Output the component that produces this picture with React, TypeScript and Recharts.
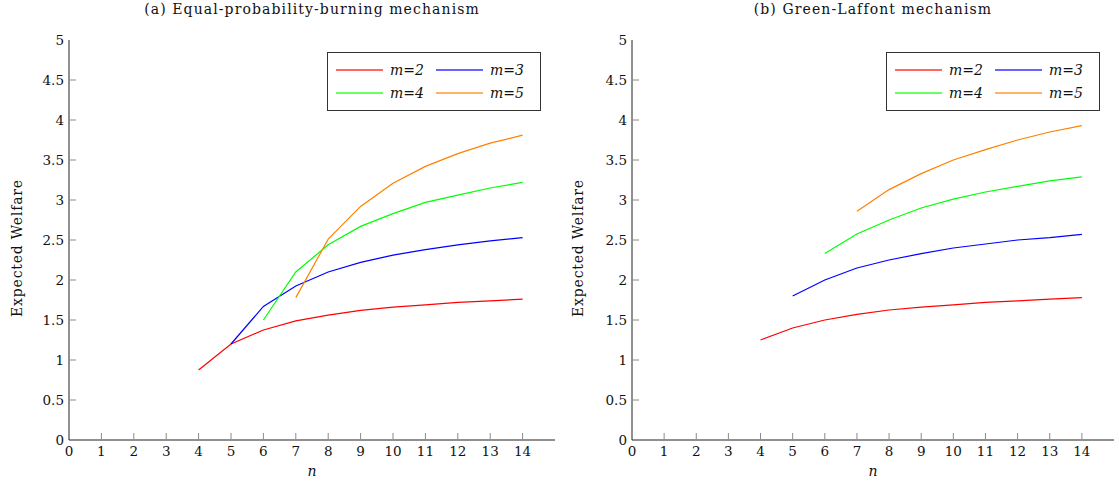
import React from "react"
import { LineChart, Line, XAxis, YAxis, Legend } from "recharts"

// n = 4 .. 14
const nValues = [4, 5, 6, 7, 8, 9, 10, 11, 12, 13, 14]
const xTicks = [0, 1, 2, 3, 4, 5, 6, 7, 8, 9, 10, 11, 12, 13, 14]
const yTicks = [0, 0.5, 1, 1.5, 2, 2.5, 3, 3.5, 4, 4.5, 5]

const seriesNames = ["m=2", "m=3", "m=4", "m=5"]
const seriesColors = ["#ff0000", "#0000ff", "#00ff00", "#ff8000"]

// (a) Equal-probability-burning mechanism
const epbM2 = [0.875, 1.2, 1.375, 1.49, 1.56, 1.62, 1.66, 1.69, 1.72, 1.74, 1.76]
const epbM3 = [null, 1.2, 1.67, 1.925, 2.1, 2.22, 2.31, 2.38, 2.44, 2.49, 2.53]
const epbM4 = [null, null, 1.5, 2.1, 2.44, 2.67, 2.83, 2.97, 3.06, 3.15, 3.22]
const epbM5 = [null, null, null, 1.78, 2.51, 2.92, 3.21, 3.42, 3.58, 3.71, 3.81]

// (b) Green-Laffont mechanism
const glM2 = [1.25, 1.4, 1.5, 1.57, 1.625, 1.66, 1.69, 1.72, 1.74, 1.76, 1.78]
const glM3 = [null, 1.8, 2.0, 2.15, 2.25, 2.33, 2.4, 2.45, 2.5, 2.53, 2.57]
const glM4 = [null, null, 2.33, 2.575, 2.75, 2.9, 3.01, 3.1, 3.17, 3.24, 3.29]
const glM5 = [null, null, null, 2.86, 3.13, 3.33, 3.5, 3.63, 3.75, 3.85, 3.93]

const FONT = "'DejaVu Serif', serif"
const TICK_LEN = 7
const TICK_COLOR = "#8a8a8a"
const BORDER = "#222"
const TEXT = "#111"

function buildRows(series: (number | null)[][]) {
  return nValues.map((n, i) => {
    const row: Record<string, number | null> = { n }
    series.forEach((s, k) => {
      row["s" + k] = s[i]
    })
    return row
  })
}

const BottomTick = (props: any) => {
  const { x, y, payload } = props
  return (
    <g>
      {payload.value !== 0 && <line x1={x} y1={y} x2={x} y2={y - TICK_LEN} stroke={TICK_COLOR} />}
      <text x={x} y={y + 16} textAnchor="middle" fontSize={13.5} fontFamily={FONT} fill={TEXT}>
        {payload.value}
      </text>
    </g>
  )
}

const TopTick = (props: any) => {
  const { x, y, payload } = props
  if (payload.value === 0) return <g />
  return <line x1={x} y1={y} x2={x} y2={y + TICK_LEN} stroke={TICK_COLOR} />
}

const LeftTick = (props: any) => {
  const { x, y, payload } = props
  return (
    <g>
      {payload.value !== 0 && payload.value !== 5 && (
        <line x1={x} y1={y} x2={x + TICK_LEN} y2={y} stroke={TICK_COLOR} />
      )}
      <text x={x - 5} y={y + 5} textAnchor="end" fontSize={13.5} fontFamily={FONT} fill={TEXT}>
        {payload.value}
      </text>
    </g>
  )
}

const RightTick = (props: any) => {
  const { x, y, payload } = props
  if (payload.value === 0 || payload.value === 5) return <g />
  return <line x1={x} y1={y} x2={x - TICK_LEN} y2={y} stroke={TICK_COLOR} />
}

const LegendBox = (props: any) => {
  const items = props.payload || []
  return (
    <div
      style={{
        border: "1px solid #333",
        background: "#fff",
        boxSizing: "border-box",
        width: "100%",
        height: "100%",
        display: "grid",
        gridTemplateColumns: "1fr 1fr",
        alignContent: "center",
        rowGap: 7,
        padding: "0 4px 0 8px",
        fontFamily: FONT,
        fontStyle: "italic",
        fontSize: 14,
        color: TEXT,
      }}
    >
      {items.map((it: any) => (
        <div key={it.value} style={{ display: "flex", alignItems: "center" }}>
          <span
            style={{
              display: "inline-block",
              flex: "0 0 47px",
              height: 2,
              background: it.color,
              opacity: 0.6,
              marginRight: 7,
            }}
          />
          <span style={{ whiteSpace: "nowrap" }}>{it.value}</span>
        </div>
      ))}
    </div>
  )
}

interface PanelProps {
  title: string
  series: (number | null)[][]
  left: number
  width: number
  yAxisWidth: number
  labelX: number
}

function Panel({ title, series, left, width, yAxisWidth, labelX }: PanelProps) {
  const rows = buildRows(series)
  const height = 486
  const marginRight = 5
  const plotLeft = yAxisWidth
  const plotRight = width - marginRight
  return (
    <div style={{ position: "absolute", left, top: 0, width, height }}>
      <div
        style={{
          position: "absolute",
          top: 1,
          left: plotLeft,
          width: plotRight - plotLeft,
          textAlign: "center",
          fontFamily: FONT,
          fontSize: 14,
          letterSpacing: 1.1,
          color: TEXT,
        }}
      >
        {title}
      </div>
      <LineChart width={width} height={height} data={rows} margin={{ top: 40, right: marginRight, bottom: 0, left: 0 }}>
        <XAxis
          dataKey="n"
          type="number"
          domain={[0, 15]}
          ticks={xTicks}
          interval={0}
          tickSize={0}
          tickMargin={0}
          tickLine={false}
          tick={<BottomTick />}
          axisLine={{ stroke: BORDER }}
          height={46}
          label={{
            content: (p: any) => (
              <text
                x={p.viewBox.x + p.viewBox.width / 2}
                y={p.viewBox.y + 36}
                textAnchor="middle"
                fontSize={14}
                fontStyle="italic"
                fontFamily={FONT}
                fill={TEXT}
              >
                n
              </text>
            ),
          }}
        />
        <XAxis
          xAxisId="top"
          orientation="top"
          dataKey="n"
          type="number"
          domain={[0, 15]}
          ticks={xTicks}
          interval={0}
          tickSize={0}
          tickMargin={0}
          tickLine={false}
          tick={<TopTick />}
          axisLine={{ stroke: BORDER }}
          height={0}
        />
        <YAxis
          type="number"
          domain={[0, 5]}
          ticks={yTicks}
          interval={0}
          tickSize={0}
          tickMargin={0}
          tickLine={false}
          tick={<LeftTick />}
          axisLine={{ stroke: BORDER }}
          width={yAxisWidth}
          label={{
            content: (p: any) => {
              const cy = p.viewBox.y + p.viewBox.height / 2 + 8
              return (
                <text
                  x={labelX}
                  y={cy}
                  transform={`rotate(-90 ${labelX} ${cy})`}
                  textAnchor="middle"
                  dominantBaseline="central"
                  fontSize={14}
                  letterSpacing={0.8}
                  fontFamily={FONT}
                  fill={TEXT}
                >
                  Expected Welfare
                </text>
              )
            },
          }}
        />
        <YAxis
          yAxisId="right"
          orientation="right"
          type="number"
          domain={[0, 5]}
          ticks={yTicks}
          interval={0}
          tickSize={0}
          tickMargin={0}
          tickLine={false}
          tick={<RightTick />}
          axisLine={{ stroke: BORDER }}
          width={0}
        />
        {series.map((_, k) => (
          <Line
            key={k}
            dataKey={"s" + k}
            name={seriesNames[k]}
            stroke={seriesColors[k]}
            strokeWidth={1.2}
            dot={false}
            activeDot={false}
            type="linear"
            isAnimationActive={false}
          />
        ))}
        <Legend
          verticalAlign="middle"
          align="center"
          content={<LegendBox />}
          wrapperStyle={{ top: 52, left: plotRight - 228, width: 214, height: 59 }}
        />
      </LineChart>
    </div>
  )
}

export default function App() {
  return (
    <div style={{ position: "absolute", left: 0, top: 0, width: 1119, height: 486, background: "#fff" }}>
      <Panel
        title="(a) Equal-probability-burning mechanism"
        series={[epbM2, epbM3, epbM4, epbM5]}
        left={0}
        width={560}
        yAxisWidth={69}
        labelX={17}
      />
      <Panel
        title="(b) Green-Laffont mechanism"
        series={[glM2, glM3, glM4, glM5]}
        left={560}
        width={559}
        yAxisWidth={72}
        labelX={18}
      />
    </div>
  )
}
